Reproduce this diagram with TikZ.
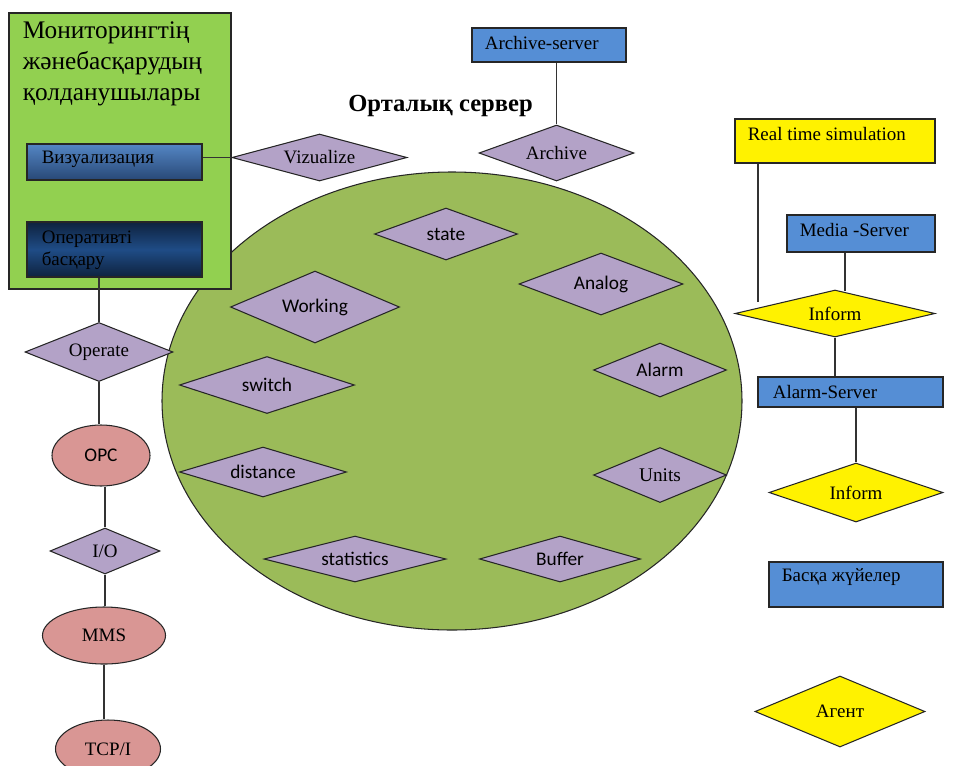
\documentclass[tikz,border=0pt]{standalone}
\usepackage{fontspec}
\setmainfont{Liberation Serif}
\newfontfamily\calfont{Carlito}
\usetikzlibrary{shapes.geometric}
\definecolor{panelgreen}{RGB}{146,208,80}
\definecolor{srvgreen}{RGB}{155,187,89}
\definecolor{lilac}{RGB}{179,162,199}
\definecolor{srvblue}{RGB}{85,142,213}
\definecolor{rosy}{RGB}{217,150,148}
\definecolor{vizblue}{RGB}{84,134,196}
\definecolor{vizdark}{RGB}{40,72,118}
\definecolor{opmid}{RGB}{31,76,134}
\definecolor{opdark}{RGB}{14,34,62}
\def\px{0.02cm}

\tikzset{
  base/.style={draw=black!85, line width=0.6pt, inner sep=0pt, font=\fontsize{10.8}{13}\selectfont},
  box/.style={base, rectangle},
  rel/.style={base, diamond, aspect=3, fill=lilac},
  inf/.style={base, diamond, aspect=3, fill=yellow},
  proto/.style={base, ellipse, fill=rosy},
  intext/.style={anchor=west, inner sep=0pt, xshift=13*\px, yshift=-16*\px, font=\fontsize{10.8}{13}\selectfont},
  multitext/.style={anchor=north west, inner sep=0pt, align=left},
  wire/.style={draw=black!80, line width=0.6pt}
}

\begin{document}
\begin{tikzpicture}[x=\px, y=-\px]
\useasboundingbox (0,0) rectangle (960,765);

% central server
\node[base, ellipse, fill=srvgreen, minimum width=580*\px, minimum height=458*\px] (srv) at (452,401) {};
\node[anchor=west, inner sep=0pt, font=\bfseries\fontsize{14}{17}\selectfont] (srvname) at (348,106) {Орталық сервер};

% users panel
\node[box, fill=panelgreen, minimum width=222*\px, minimum height=276*\px,
  label={[multitext, xshift=14*\px, yshift=-9*\px, font=\fontsize{14.4}{17.5}\selectfont]north west:Мониторингтің\\жәнебасқарудың\\қолданушылары}] (users) at (120,151) {};
\node[box, top color=vizblue, bottom color=vizdark, minimum width=175*\px, minimum height=36*\px,
  label={[intext, xshift=2*\px]north west:Визуализация}] (viz) at (114.5,162) {};
\node[box, top color=opdark, bottom color=opdark, middle color=opmid, minimum width=175*\px, minimum height=55*\px,
  label={[multitext, xshift=15*\px, yshift=-9*\px, font=\fontsize{10.8}{12.5}\selectfont]north west:Оперативті\\басқару}] (oper) at (114.5,249.5) {};

% servers on the right
\node[box, fill=srvblue, minimum width=154*\px, minimum height=34*\px, label={[intext]north west:Archive-server}] (archsrv) at (549,45) {};
\node[box, fill=yellow, minimum width=200*\px, minimum height=44*\px, label={[intext]north west:Real time simulation}] (rts) at (835,141) {};
\node[box, fill=srvblue, minimum width=148*\px, minimum height=37*\px, label={[intext]north west:Media -Server}] (media) at (861,233.5) {};
\node[box, fill=srvblue, minimum width=185*\px, minimum height=30*\px, label={[intext, xshift=2*\px]north west:Alarm-Server}] (alsrv) at (850.5,392) {};
\node[box, fill=srvblue, minimum width=174*\px, minimum height=45*\px, label={[intext]north west:Басқа жүйелер}] (other) at (856,584.5) {};

% relations inside the server
\foreach \n/\x/\y/\w/\h/\t/\f in {
   state/446/234/143/52/state/\calfont,
   working/315/307/169/72/Working/\calfont,
   analog/601/284/164/62/Analog/\calfont,
   alarm/660/370/133/54/Alarm/\calfont,
   switch/267/385/175/57/switch/\calfont,
   distance/263/472/167/50/distance/\calfont,
   units/660/475/133/55/Units/\rmfamily,
   statistics/355/559/182/46/statistics/\calfont,
   buffer/560/559/161/46/Buffer/\calfont}
   \node[rel, font={\f\fontsize{11}{13}\selectfont}, minimum width=\w*\px, minimum height=\h*\px] (\n) at (\x,\y) {\t};

% relations outside
\node[rel, minimum width=175*\px, minimum height=47*\px] (vizd) at (319.5,157.5) {Vizualize};
\node[rel, minimum width=155*\px, minimum height=56*\px] (archd) at (556.5,153) {Archive};
\node[rel, minimum width=148*\px, minimum height=59*\px] (operd) at (99,352) {Operate};
\node[rel, minimum width=110*\px, minimum height=46*\px] (iod) at (105,551) {I/O};
\node[inf, minimum width=200*\px, minimum height=47*\px] (inf1) at (835,313.5) {Inform};
\node[inf, minimum width=174*\px, minimum height=59*\px] (inf2) at (856,492.5) {Inform};
\node[inf, minimum width=170*\px, minimum height=71*\px] (agent) at (840,711.5) {Агент};

% protocol stack
\node[proto, font=\calfont\fontsize{11}{13}\selectfont, minimum width=98*\px, minimum height=61*\px] (opc) at (101,455.5) {OPC};
\node[proto, minimum width=123*\px, minimum height=57*\px] (mms) at (104,635.5) {MMS};
\node[proto, minimum width=105*\px, minimum height=58*\px] (tcp) at (108,749) {TCP/I};

% connectors
\draw[wire] (viz.east |- vizd.west) -- (vizd.west);
\draw[wire] (archd.north |- archsrv.south) -- (archd.north);
\draw[wire] (oper.south -| operd.north) -- (operd.north);
\draw[wire] (operd.south) -- (operd.south |- opc.north);
\draw[wire] (opc.south -| iod.north) -- (iod.north);
\draw[wire] (iod.south) -- (iod.south |- mms.north);
\draw[wire] (mms.south) -- (mms.south |- tcp.north);
\coordinate (rtsend) at (758,302);
\draw[wire] (rts.south west -| rtsend) -- (rtsend);
\coordinate (medend) at (845,291);
\draw[wire] (media.south west -| medend) -- (medend);
\draw[wire] (inf1.south) -- (inf1.south |- alsrv.north);
\draw[wire] (inf2.north |- alsrv.south) -- (inf2.north);
\end{tikzpicture}
\end{document}
